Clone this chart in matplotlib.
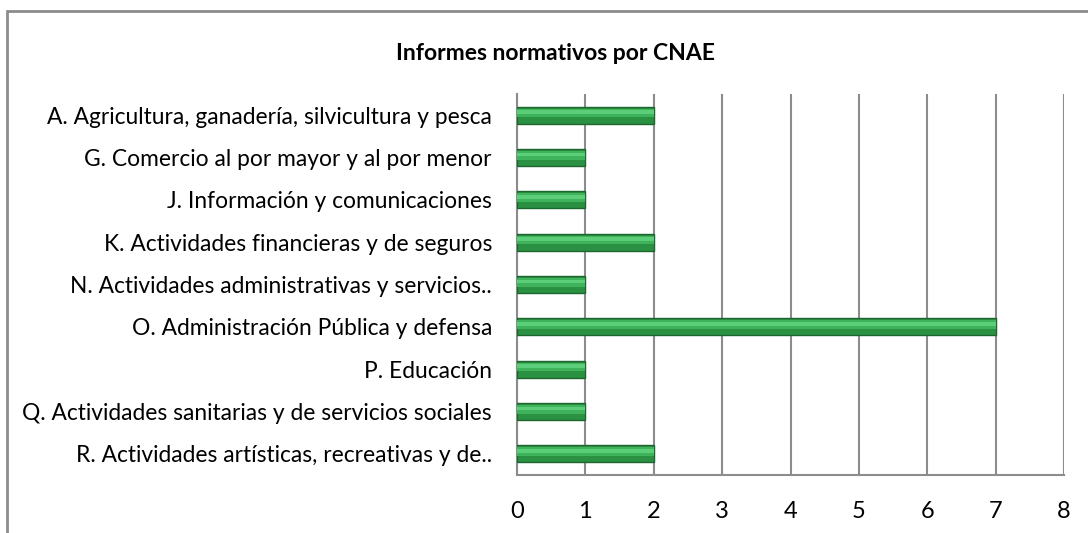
import matplotlib.pyplot as plt
from matplotlib.patches import Rectangle

categories = [
    'A. Agricultura, ganadería, silvicultura y pesca',
    'G. Comercio al por mayor y al por menor',
    'J. Información y comunicaciones',
    'K. Actividades financieras y de seguros',
    'N. Actividades administrativas y servicios..',
    'O. Administración Pública y defensa',
    'P. Educación',
    'Q. Actividades sanitarias y de servicios sociales',
    'R. Actividades artísticas, recreativas y de..',
]
values = [2, 1, 1, 2, 1, 7, 1, 1, 2]
x_ticks = [0, 1, 2, 3, 4, 5, 6, 7, 8]

plt.rcParams['font.family'] = ['Lato', 'DejaVu Sans']

fig = plt.figure(figsize=(10.88, 5.33), dpi=100)
ax = fig.add_axes([517 / 1088, 1 - 475 / 533, (1064 - 517) / 1088, (475 - 94) / 533])

pos = list(range(len(categories)))
# main bar body
ax.barh(pos, values, height=0.4, color='#2a9142', edgecolor='#1d6630', linewidth=1.0, zorder=3)
# lighter upper part of the bevel
ax.barh([p - 0.05 for p in pos], values, height=0.2, color='#3fb35c', linewidth=0, zorder=4)
ax.barh([p - 0.07 for p in pos], values, height=0.09, color='#5ccd79', linewidth=0, zorder=5)

ax.set_xlim(0, 8)
ax.set_ylim(len(categories) - 0.5, -0.5)
ax.set_xticks(x_ticks)
ax.set_yticks(pos)
ax.set_yticklabels(categories, fontsize=16.4)
ax.tick_params(axis='x', labelsize=17, length=0, pad=19)
ax.tick_params(axis='y', length=0, pad=18)
ax.grid(axis='x', color='#8c8c8c', linewidth=1.5, zorder=0)
ax.set_axisbelow(True)
for s in ['top', 'right']:
    ax.spines[s].set_visible(False)
for s in ['left', 'bottom']:
    ax.spines[s].set_color('#8c8c8c')
    ax.spines[s].set_linewidth(1.5)

fig.text(555 / 1088, 1 - 53 / 533, 'Informes normativos por CNAE', ha='center', va='center',
         fontsize=16.5, fontweight='bold')

# outer chart frame
fig.patches.append(Rectangle((7 / 1088, -0.2), 1.2, 1.2 - 11 / 533, transform=fig.transFigure,
                             fill=False, edgecolor='#8c8c8c', linewidth=2))

fig.savefig('out.png', dpi=100)
